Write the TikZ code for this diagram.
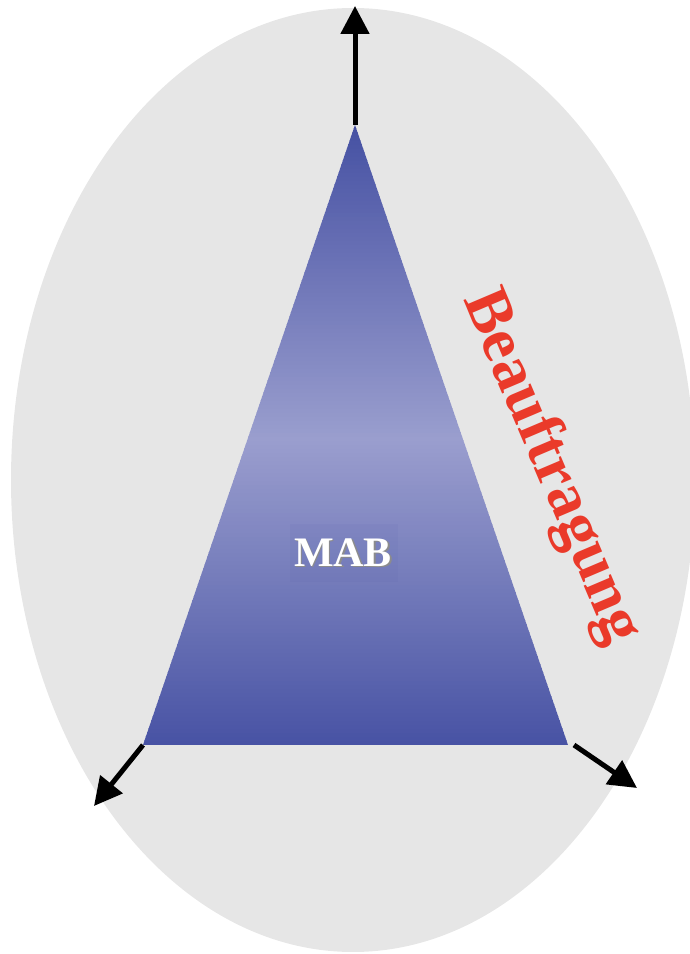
\documentclass[tikz,border=0pt]{standalone}
\usepackage{fontspec}
\setmainfont{Liberation Serif}
\usetikzlibrary{arrows.meta}
\definecolor{ellgray}{HTML}{E6E6E6}
\definecolor{triDark}{HTML}{4651A3}
\definecolor{triLight}{HTML}{9A9ECE}
\definecolor{labred}{HTML}{EA3A2A}
\tikzset{
  bigarrow/.style={line width=5pt, -{Triangle[length=28pt,width=28pt]}},
  maintext/.style={font=\bfseries\fontsize{42}{42}\selectfont, text=white, inner sep=0pt},
  sidetext/.style={font=\bfseries\fontsize{64}{64}\selectfont, text=labred, inner sep=0pt}
}
\begin{document}
\begin{tikzpicture}[x=1pt,y=1pt]
\useasboundingbox (0,0) rectangle (689,954);
\fill[ellgray] (353,474) ellipse [x radius=342pt, y radius=472pt];
\coordinate (apex) at (355,829);
\coordinate (bl) at (143,209);
\coordinate (br) at (568,209);
\begin{scope}
  \clip (apex) -- (br) -- (bl) -- cycle;
  \foreach \i in {0,...,155} {
    \pgfmathsetmacro\yy{209+4*\i}
    \pgfmathsetmacro\p{max(0,min(100,100*(1-abs(\yy+2-514)/312)))}
    \fill[triLight!\p!triDark] (140,\yy) rectangle (572,\yy+4.6);
  }
\end{scope}
\fill[triDark, opacity=0.06] (290,430) rectangle (398,372);
\node[maintext] (mab) at (343,401) {\rlap{\kern1.5pt\raisebox{-1.5pt}{\color{black!45}MAB}}MAB};
\node[sidetext, rotate=-67] (beauf) at (551,487) {Beauftragung};
\coordinate (topend) at (355,948);
\coordinate (blend) at (94,148);
\coordinate (br0) at (574,209);
\coordinate (brend) at (637,166);
\draw[bigarrow] (apex) -- (topend);
\draw[bigarrow] (bl) -- (blend);
\draw[bigarrow] (br0) -- (brend);
\end{tikzpicture}
\end{document}
